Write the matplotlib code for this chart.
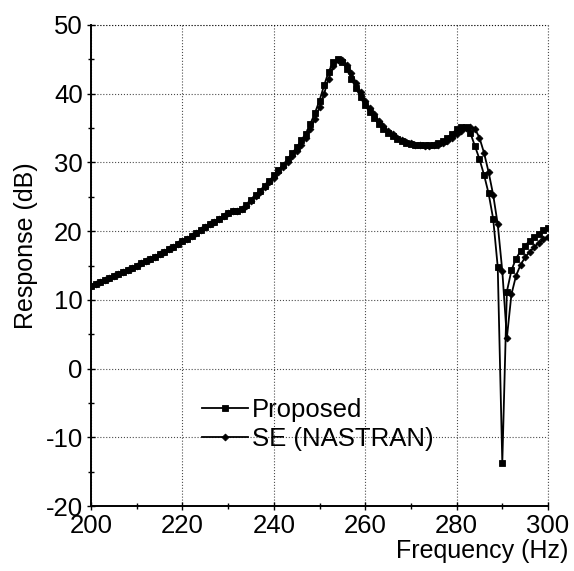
import matplotlib
matplotlib.use("Agg")
import matplotlib.pyplot as plt
import numpy as np
from matplotlib.ticker import MultipleLocator

plt.rcParams['font.family'] = ['Liberation Sans', 'DejaVu Sans']
plt.rcParams['axes.unicode_minus'] = False

freq = list(range(200, 301))

proposed = [
    12.0, 12.3, 12.6, 12.9, 13.2, 13.5, 13.8, 14.1, 14.4, 14.7,   # 200-209
    15.0, 15.3, 15.7, 16.0, 16.3, 16.7, 17.0, 17.4, 17.7, 18.1,   # 210-219
    18.5, 18.9, 19.3, 19.7, 20.1, 20.6, 21.0, 21.4, 21.8, 22.2,   # 220-229
    22.6, 22.9, 23.0, 23.2, 23.8, 24.6, 25.3, 25.9, 26.6, 27.3,   # 230-239
    28.1, 28.9, 29.6, 30.5, 31.3, 32.2, 33.2, 34.2, 35.6, 37.2,   # 240-249
    39.0, 41.2, 43.2, 44.6, 45.0, 44.6, 43.6, 42.2, 40.8, 39.5,   # 250-259
    38.3, 37.3, 36.4, 35.6, 34.9, 34.3, 33.8, 33.4, 33.1, 32.9,   # 260-269
    32.7, 32.6, 32.5, 32.5, 32.5, 32.6, 32.8, 33.1, 33.6, 34.2,   # 270-279
    34.8, 35.2, 35.1, 34.3, 32.4, 30.5, 28.2, 25.5, 21.8, 14.8,   # 280-289
    -13.7, 11.2, 14.3, 16.0, 17.1, 17.9, 18.6, 19.1, 19.6, 20.1,  # 290-299
    20.5,
]

se_nastran = [
    12.0, 12.3, 12.6, 12.9, 13.2, 13.5, 13.8, 14.1, 14.4, 14.7,   # 200-209
    15.0, 15.3, 15.7, 16.0, 16.3, 16.7, 17.0, 17.4, 17.7, 18.1,   # 210-219
    18.5, 18.9, 19.3, 19.7, 20.1, 20.6, 21.0, 21.4, 21.8, 22.2,   # 220-229
    22.6, 22.9, 23.0, 23.2, 23.7, 24.4, 25.1, 25.7, 26.4, 27.1,   # 230-239
    27.8, 28.6, 29.3, 30.1, 30.9, 31.7, 32.6, 33.6, 34.8, 36.3,   # 240-249
    38.0, 40.0, 42.2, 44.0, 44.9, 44.9, 44.2, 43.0, 41.6, 40.2,   # 250-259
    39.0, 37.9, 37.0, 36.1, 35.3, 34.6, 34.1, 33.6, 33.2, 33.0,   # 260-269
    32.8, 32.6, 32.5, 32.4, 32.4, 32.5, 32.6, 32.8, 33.1, 33.6,   # 270-279
    34.1, 34.6, 35.0, 35.2, 34.9, 33.6, 31.4, 28.6, 25.3, 21.0,   # 280-289
    14.2, 4.5, 10.8, 13.5, 15.1, 16.2, 17.0, 17.7, 18.3, 18.8,    # 290-299
    19.2,
]

x_ticks = [200, 220, 240, 260, 280, 300]
y_ticks = [-20, -10, 0, 10, 20, 30, 40, 50]

fig = plt.figure(figsize=(5.74, 5.71), dpi=100)
ax = fig.add_axes([91/574, 1 - 506/571, 457/574, 481/571])

ax.plot(freq, proposed, color='black', lw=1.3, marker='s', ms=4.5,
        markeredgewidth=0.6, label='Proposed')
ax.plot(freq, se_nastran, color='black', lw=1.3, marker='D', ms=3.5,
        markeredgewidth=0.6, label='SE (NASTRAN)')

ax.set_xlim(200, 300)
ax.set_ylim(-20, 50)
ax.set_xticks(x_ticks)
ax.set_yticks(y_ticks)
ax.xaxis.set_minor_locator(MultipleLocator(10))
ax.yaxis.set_minor_locator(MultipleLocator(5))
ax.tick_params(axis='both', which='major', direction='inout', length=6,
               width=1.0, labelsize=18.5, colors='black')
ax.tick_params(axis='both', which='minor', direction='inout', length=4, width=1.0)
ax.tick_params(axis='x', pad=3)
ax.tick_params(axis='y', pad=3)

for s in ['top', 'right']:
    ax.spines[s].set_visible(False)
for s in ['left', 'bottom']:
    ax.spines[s].set_linewidth(1.4)

ax.grid(True, which='major', linestyle=':', color='black', linewidth=0.8, alpha=0.7)
ax.set_axisbelow(True)
ax.axhline(50, linestyle=':', color='black', linewidth=0.8, alpha=0.7, clip_on=False)
ax.axvline(300, linestyle=':', color='black', linewidth=0.8, alpha=0.7, clip_on=False)

leg = ax.legend(loc='upper left', bbox_to_anchor=(0.243, 0.224), frameon=False,
                fontsize=18.5, numpoints=1, handlelength=1.8, handletextpad=0.15,
                labelspacing=0.18, borderaxespad=0, borderpad=0)

fig.text(26/574, 1 - 246/571, 'Response (dB)', rotation=90, ha='center',
         va='center', fontsize=18)
fig.text(568/574, 1 - 551/571, 'Frequency (Hz)', ha='right', va='center',
         fontsize=18)

fig.savefig('out.png', dpi=100)
